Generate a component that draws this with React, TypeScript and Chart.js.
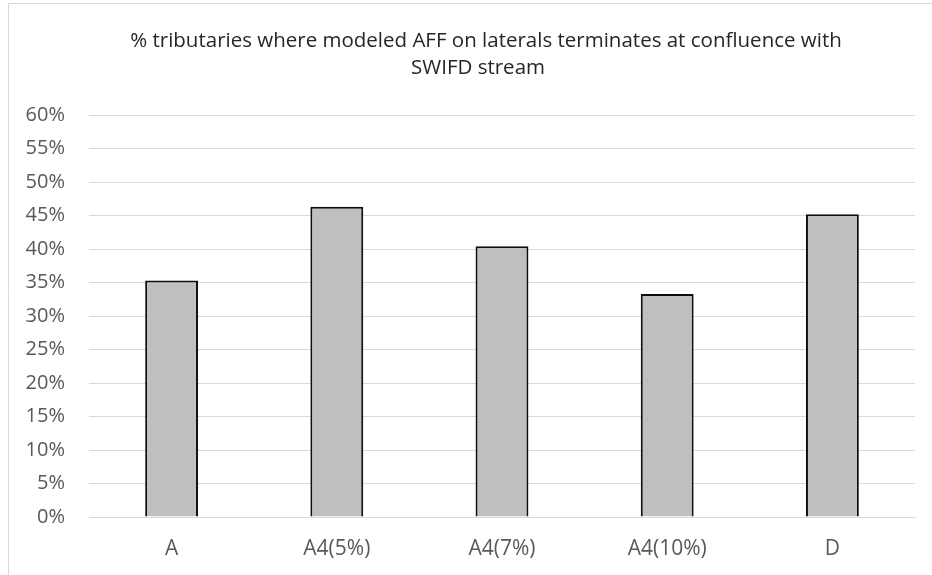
import React, { useEffect, useRef } from "react";
import { Chart, registerables } from "chart.js";

Chart.register(...registerables);

const categories = ["A", "A4(5%)", "A4(7%)", "A4(10%)", "D"];
const values = [0.353, 0.463, 0.404, 0.333, 0.452];
const titleLines = [
  "% tributaries where modeled AFF on laterals terminates at confluence with",
  "SWIFD stream",
];

const FONT = "'Open Sans', 'Noto Sans', sans-serif";

const framePlugin = {
  id: "frameAndTitle",
  beforeDraw(chart: any) {
    const ctx = chart.ctx;
    ctx.save();
    ctx.strokeStyle = "#d9d9d9";
    ctx.lineWidth = 1;
    ctx.beginPath();
    ctx.moveTo(8.5, 600);
    ctx.lineTo(8.5, 3.5);
    ctx.lineTo(1000, 3.5);
    ctx.stroke();
    ctx.restore();
  },
  afterDraw(chart: any) {
    const ctx = chart.ctx;
    ctx.save();
    ctx.fillStyle = "#262626";
    ctx.font = `20.5px ${FONT}`;
    ctx.textAlign = "center";
    ctx.textBaseline = "alphabetic";
    ctx.fillText(titleLines[0], 486, 47);
    ctx.fillText(titleLines[1], 478, 74);
    ctx.restore();
  },
};

export default function App() {
  const ref = useRef<HTMLCanvasElement>(null);
  useEffect(() => {
    if (!ref.current) return;
    const chart = new Chart(ref.current, {
      type: "bar",
      data: {
        labels: categories,
        datasets: [
          {
            data: values,
            backgroundColor: "#bfbfbf",
            borderColor: "#0d0d0d",
            borderWidth: 2,
            barPercentage: 0.32,
            categoryPercentage: 1,
          },
        ],
      },
      options: {
        animation: false,
        responsive: false,
        maintainAspectRatio: false,
        layout: { padding: { top: 115, right: 17, left: 0, bottom: 0 } },
        plugins: {
          legend: { display: false },
          title: { display: false },
          tooltip: { enabled: false },
        },
        scales: {
          x: {
            grid: { display: false, drawTicks: false },
            border: { color: "#d9d9d9", width: 1 },
            ticks: {
              color: "#595959",
              font: { family: FONT, size: 21 },
              padding: 19,
            },
            afterFit: (s: any) => {
              s.height = 58;
            },
          },
          y: {
            min: 0,
            max: 0.6,
            grid: { color: "#d9d9d9", lineWidth: 1, drawTicks: false },
            border: { display: false },
            ticks: {
              stepSize: 0.05,
              color: "#595959",
              font: { family: FONT, size: 20 },
              padding: 24,
              callback: (v: any) => `${Math.round(Number(v) * 100)}%`,
            },
            afterFit: (s: any) => {
              s.width = 89;
            },
          },
        },
      },
      plugins: [framePlugin],
    });
    return () => chart.destroy();
  }, []);
  return (
    <div style={{ position: "absolute", left: 0, top: 0, width: 932, height: 575, background: "#fff" }}>
      <canvas ref={ref} width={932} height={575} style={{ display: "block", width: 932, height: 575 }} />
    </div>
  );
}
